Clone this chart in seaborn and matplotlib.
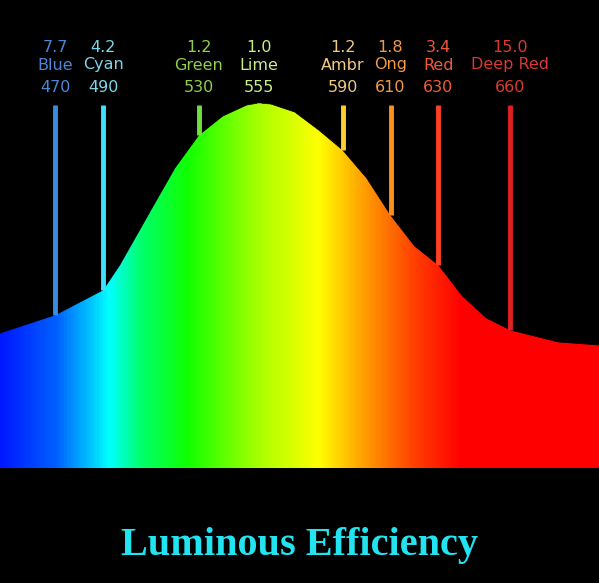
import numpy as np
import pandas as pd
import matplotlib.pyplot as plt
from matplotlib.colors import LinearSegmentedColormap
import seaborn as sns

# luminous efficiency curve, height above fill bottom
wl = [447, 470, 490, 497, 510, 520, 530, 540, 550, 555, 560, 570, 580, 590, 600, 610, 620, 630, 640, 650, 660, 680, 697]
height = [135, 153, 178, 203, 258, 300, 333, 352, 363, 365, 364, 356, 338, 318, 290, 253, 222, 203, 172, 150, 138, 126, 123]

led_wl = [470, 490, 530, 555, 590, 610, 630, 660]
led_name = ["Blue", "Cyan", "Green", "Lime", "Ambr", "Ong", "Red", "Deep Red"]
led_value = ["7.7", "4.2", "1.2", "1.0", "1.2", "1.8", "3.4", "15.0"]
led_text_color = ["#4d86d6", "#7fd6ea", "#8fd04a", "#c8ee8a", "#f2c888", "#f29a48", "#f05a38", "#d83a32"]
led_line_color = ["#3a8ce0", "#40e0ff", "#70e040", "#b0f030", "#ffd030", "#ff9020", "#ff4020", "#e02020"]

spec_wl = [447, 470, 485, 492, 505, 525, 555, 580, 600, 620, 640, 697]
spec_col = ["#0018ff", "#0060ff", "#00c8ff", "#00ffff", "#00ff70", "#10ff00", "#a8ff00", "#ffff00", "#ff9a00", "#ff4000", "#ff0000", "#ff0000"]

sns.set_style("dark", {"axes.facecolor": "black", "figure.facecolor": "black"})

fig = plt.figure(figsize=(5.99, 5.83), dpi=100)
ax = fig.add_axes([0, 0, 1, 1])
ax.set_xlim(447, 697)
ax.set_ylim(-115, 468)
ax.axis("off")

pos = [(w - 447) / 250 for w in spec_wl]
cmap = LinearSegmentedColormap.from_list("spec", list(zip(pos, spec_col)))
grad = np.linspace(0, 1, 600).reshape(1, -1)
im = ax.imshow(grad, cmap=cmap, extent=[447, 697, 0, 370], aspect="auto", zorder=1)
poly = ax.fill_between(wl, 0, height, color="none", lw=0)
path = poly.get_paths()[0]
im.set_clip_path(path, transform=ax.transData)

df = pd.DataFrame({"wl": wl, "height": height})
sns.lineplot(data=df, x="wl", y="height", ax=ax, color="black", lw=0.5, zorder=2)

top = 363
for w, n, v, tc, lc in zip(led_wl, led_name, led_value, led_text_color, led_line_color):
    h = np.interp(w, wl, height)
    ax.plot([w, w], [h, top], color=lc, lw=3.5, zorder=3, solid_capstyle="butt")
    ax.text(w, 421, v, color=tc, ha="center", va="center", fontsize=11.5)
    ax.text(w, 403, n, color=tc, ha="center", va="center", fontsize=11.5)
    ax.text(w, 381, str(w), color=tc, ha="center", va="center", fontsize=11.5)

ax.text(572 / 1, -77, "Luminous Efficiency", color="#22e4f0", ha="center", va="center",
        fontsize=29, fontweight="bold", family="Liberation Serif")

fig.savefig("out.png", dpi=100, facecolor="black")
